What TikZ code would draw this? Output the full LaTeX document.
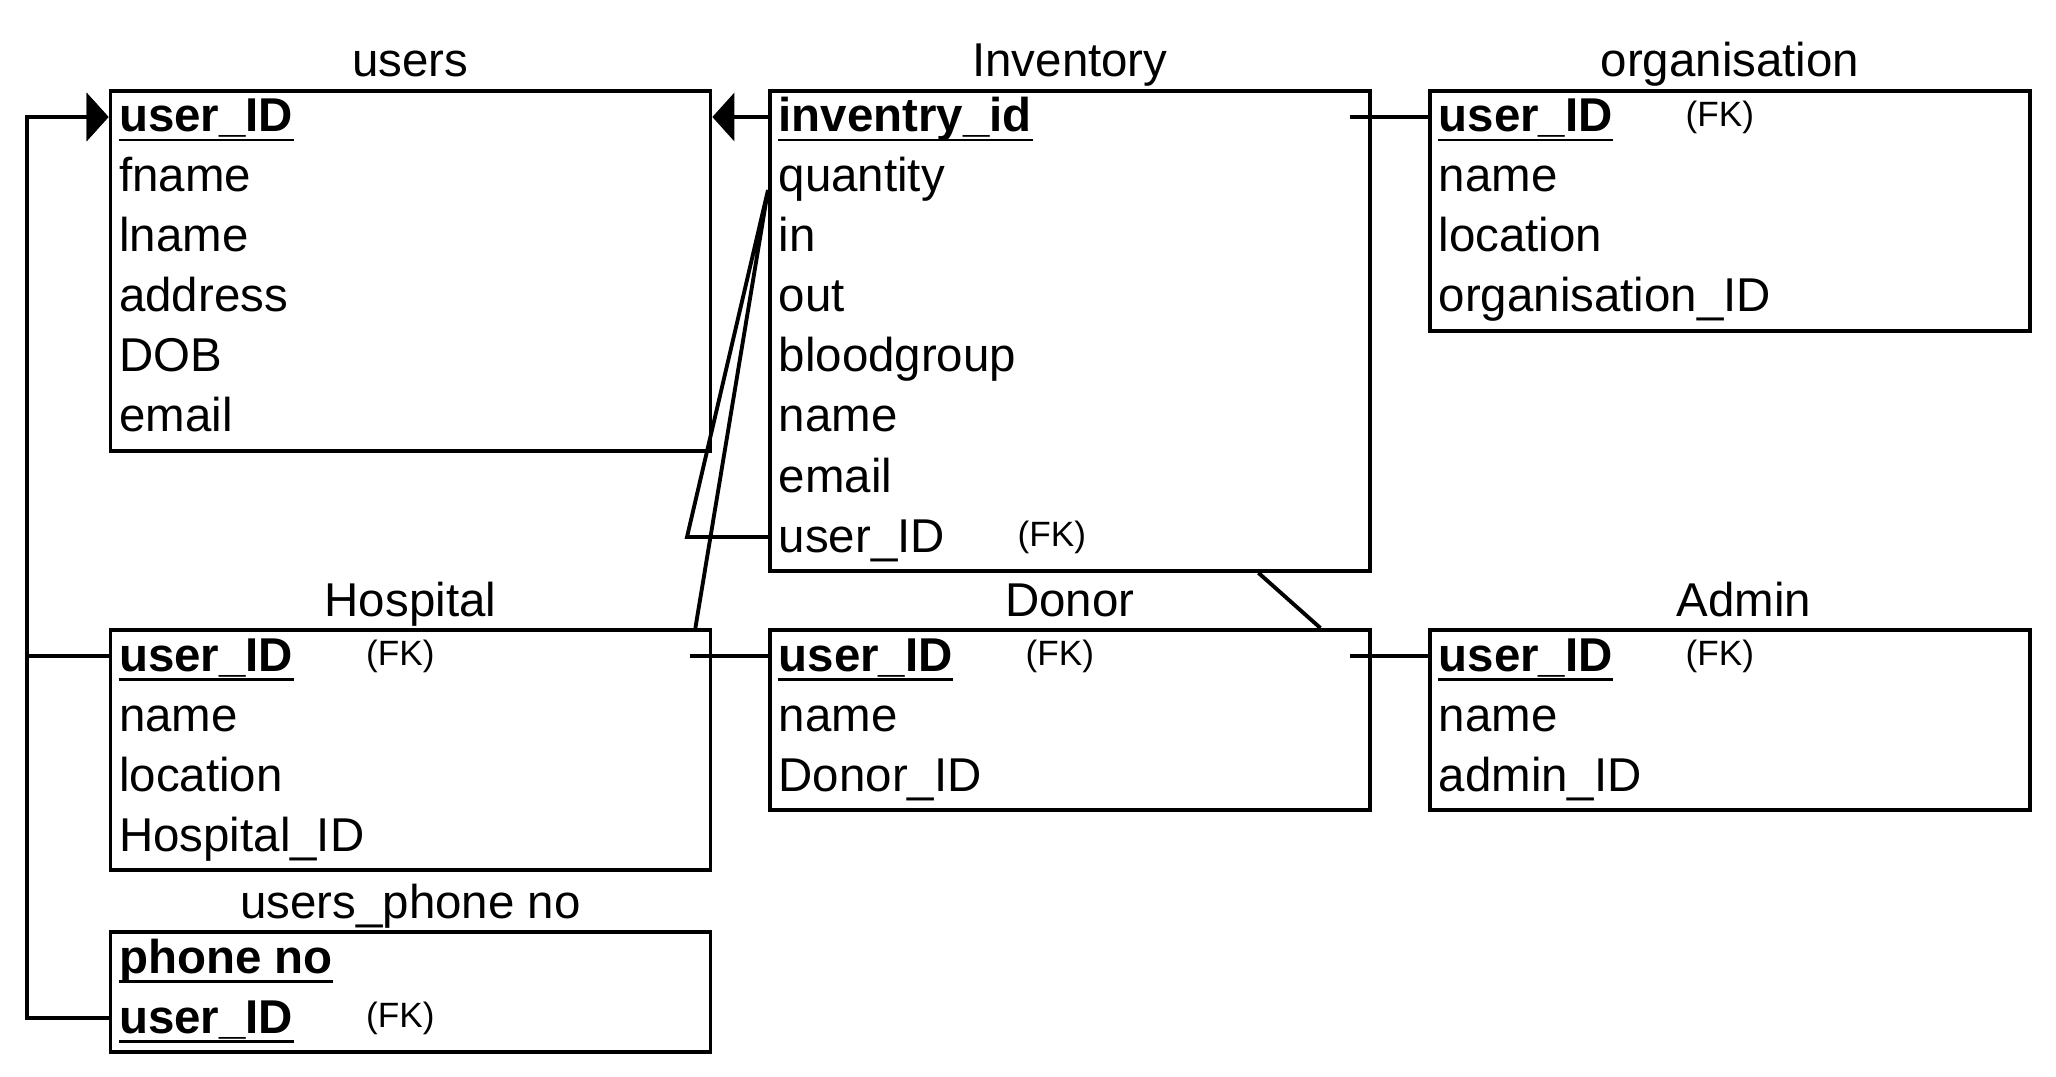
\documentclass[tikz,border=0pt]{standalone}
\usepackage{fontspec}
\setmainfont{Liberation Sans}
\usetikzlibrary{arrows.meta}

\begin{document}
\begin{tikzpicture}[>={Triangle[length=0.22cm,width=0.48cm]},
  tbl/.style={draw, line width=1.1pt, minimum width=6cm, anchor=north west, inner sep=0pt},
  row/.style={anchor=west, inner sep=0pt, yshift=0.02cm, text height=0.45cm, text depth=0.15cm, font=\fontsize{13.5}{16}\selectfont},
  key/.style={row, font=\fontsize{13.5}{16}\selectfont\bfseries},
  fk/.style={anchor=west, inner sep=0pt, yshift=0.02cm, font=\fontsize{10}{12}\selectfont},
  ttl/.style={anchor=base, inner sep=0pt, font=\fontsize{13.5}{16}\selectfont},
  uline/.style={line width=0.85pt},
  link/.style={line width=1.1pt},]
\fill[white] (0,0) rectangle (20.56,10.76);
\useasboundingbox (0,0) rectangle (20.56,10.76);

\node[tbl, minimum height=3.6cm] (users) at (1.085, 9.87) {};
\node[tbl, minimum height=4.8cm] (inv)   at (7.68, 9.87) {};
\node[tbl, minimum height=2.4cm] (org)   at (14.28, 9.87) {};
\node[tbl, minimum height=2.4cm] (hosp)  at (1.085, 4.48) {};
\node[tbl, minimum height=1.8cm] (donor) at (7.68, 4.48) {};
\node[tbl, minimum height=1.8cm] (admin) at (14.28, 4.48) {};
\node[tbl, minimum height=1.2cm] (phone) at (1.085, 1.46) {};

\node[ttl] (t1) at ([yshift=0.12cm]users.north) {users};
\node[ttl] (t2) at ([yshift=0.12cm]inv.north) {Inventory};
\node[ttl] (t3) at ([yshift=0.12cm]org.north) {organisation};
\node[ttl] (t4) at ([yshift=0.12cm]hosp.north) {Hospital};
\node[ttl] (t5) at ([yshift=0.12cm]donor.north) {Donor};
\node[ttl] (t6) at ([xshift=0.14cm, yshift=0.12cm]admin.north) {Admin};
\node[ttl] (t7) at ([yshift=0.12cm]phone.north) {users\_phone no};

\node[key] (u1) at (1.185, 9.57) {user\_ID};
\node[row] (u2) at (1.185, 8.97) {fname};
\node[row] (u3) at (1.185, 8.37) {lname};
\node[row] (u4) at (1.185, 7.77) {address};
\node[row] (u5) at (1.185, 7.17) {DOB};
\node[row] (u6) at (1.185, 6.57) {email};

\node[key] (i1) at (7.78, 9.57) {inventry\_id};
\node[row] (i2) at (7.78, 8.97) {quantity};
\node[row] (i3) at (7.78, 8.37) {in};
\node[row] (i4) at (7.78, 7.77) {out};
\node[row] (i5) at (7.78, 7.17) {bloodgroup};
\node[row] (i6) at (7.78, 6.57) {name};
\node[row] (i7) at (7.78, 5.97) {email};
\node[row] (i8) at (7.78, 5.37) {user\_ID};
\node[fk]  (f1) at (10.17, 5.37) {(FK)};

\node[key] (o1) at (14.38, 9.57) {user\_ID};
\node[fk]  (f2) at (16.85, 9.57) {(FK)};
\node[row] (o2) at (14.38, 8.97) {name};
\node[row] (o3) at (14.38, 8.37) {location};
\node[row] (o4) at (14.38, 7.77) {organisation\_ID};

\node[key] (h1) at (1.185, 4.18) {user\_ID};
\node[fk]  (f3) at (3.655, 4.18) {(FK)};
\node[row] (h2) at (1.185, 3.58) {name};
\node[row] (h3) at (1.185, 2.98) {location};
\node[row] (h4) at (1.185, 2.38) {Hospital\_ID};

\node[key] (d1) at (7.78, 4.18) {user\_ID};
\node[fk]  (f4) at (10.25, 4.18) {(FK)};
\node[row] (d2) at (7.78, 3.58) {name};
\node[row] (d3) at (7.78, 2.98) {Donor\_ID};

\node[key] (a1) at (14.38, 4.18) {user\_ID};
\node[fk]  (f5) at (16.85, 4.18) {(FK)};
\node[row] (a2) at (14.38, 3.58) {name};
\node[row] (a3) at (14.38, 2.98) {admin\_ID};

\node[key] (p1) at (1.185, 1.16) {phone no};
\node[key] (p2) at (1.185, 0.56) {user\_ID};
\node[fk]  (f6) at (3.655, 0.56) {(FK)};

\draw[uline] ([yshift=-0.08cm]u1.base west) -- ([yshift=-0.08cm]u1.base east);
\draw[uline] ([yshift=-0.08cm]i1.base west) -- ([yshift=-0.08cm]i1.base east);
\draw[uline] ([yshift=-0.08cm]o1.base west) -- ([yshift=-0.08cm]o1.base east);
\draw[uline] ([yshift=-0.08cm]h1.base west) -- ([yshift=-0.08cm]h1.base east);
\draw[uline] ([yshift=-0.08cm]d1.base west) -- ([yshift=-0.08cm]d1.base east);
\draw[uline] ([yshift=-0.08cm]a1.base west) -- ([yshift=-0.08cm]a1.base east);
\draw[uline] ([yshift=-0.08cm]p1.base west) -- ([yshift=-0.08cm]p1.base east);
\draw[uline] ([yshift=-0.08cm]p2.base west) -- ([yshift=-0.08cm]p2.base east);

\coordinate (lb) at (0.27, 0);
\coordinate (k1) at (6.87, 5.39);
\coordinate (k2) at (7.68, 8.86);

\draw[link, ->] (hosp.west |- h1) -- (lb |- h1) |- (users.west |- u1);
\draw[link, ->] (phone.west |- p2) -- (lb |- p2) |- (users.west |- u1);
\draw[link, ->] (inv.west |- i1) -- (users.east |- i1);
\draw[link] (inv.west |- i8) -- (k1) -- (k2) -- ([xshift=-0.17cm]hosp.north east);
\draw[link] ([xshift=-0.22cm]hosp.east |- h1) -- (donor.west |- d1);
\draw[link] ([xshift=-0.22cm]donor.east |- d1) -- (admin.west |- a1);
\draw[link] ([xshift=-0.22cm]inv.east |- i1) -- (org.west |- o1);
\draw[link] ([xshift=1.885cm]inv.south) -- ([xshift=-0.515cm]donor.north east);
\end{tikzpicture}
\end{document}
